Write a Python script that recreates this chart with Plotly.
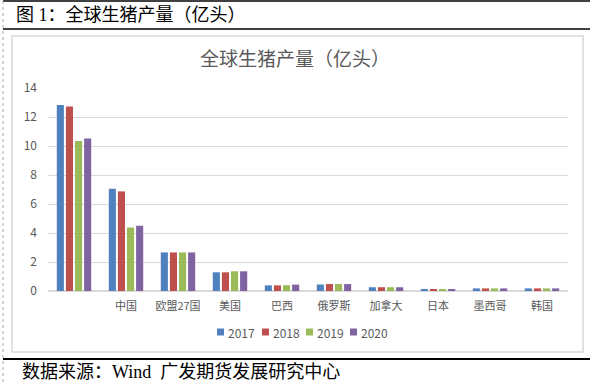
import plotly.graph_objects as go

categories = ["全球", "中国", "欧盟27国", "美国", "巴西", "俄罗斯", "加拿大", "日本", "墨西哥", "韩国"]
tick_labels = ["", "中国", "欧盟27国", "美国", "巴西", "俄罗斯", "加拿大", "日本", "墨西哥", "韩国"]
years = ["2017", "2018", "2019", "2020"]
v2017 = [12.82, 7.05, 2.66, 1.29, 0.39, 0.45, 0.26, 0.12, 0.18, 0.18]
v2018 = [12.73, 6.87, 2.66, 1.29, 0.39, 0.48, 0.26, 0.12, 0.18, 0.18]
v2019 = [10.35, 4.38, 2.66, 1.36, 0.40, 0.48, 0.26, 0.12, 0.18, 0.18]
v2020 = [10.51, 4.50, 2.66, 1.36, 0.44, 0.48, 0.26, 0.12, 0.18, 0.18]
colors = ["#4F81BD", "#C0504D", "#9BBB59", "#8064A2"]
y_ticks = [0, 2, 4, 6, 8, 10, 12, 14]

W, H = 590, 384
L, R, T, B = 48, 568, 88, 291

def px(x):
    return (x - L) / (R - L)

def py(y):
    return (B - y) / (B - T)

fig = go.Figure()
for name, vals, c in zip(years, [v2017, v2018, v2019, v2020], colors):
    fig.add_trace(go.Bar(x=categories, y=vals, name=name, showlegend=False,
                         marker=dict(color=c, line=dict(width=0))))

grey = "#595959"
font_cjk = "Noto Sans CJK SC, Noto Sans, sans-serif"
font_serif = "Liberation Serif, Noto Sans CJK SC, serif"

shapes = [
    dict(type="rect", xref="paper", yref="paper", x0=px(12), x1=px(583), y0=py(36), y1=py(352),
         line=dict(color="#D9D9D9", width=1.5), layer="below"),
    dict(type="line", xref="paper", yref="paper", x0=px(3), x1=px(590), y0=py(1), y1=py(1),
         line=dict(color="black", width=1.5)),
    dict(type="line", xref="paper", yref="paper", x0=px(3), x1=px(590), y0=py(29), y1=py(29),
         line=dict(color="black", width=1.5)),
    dict(type="line", xref="paper", yref="paper", x0=px(3), x1=px(590), y0=py(359), y1=py(359),
         line=dict(color="black", width=2)),
    dict(type="line", xref="paper", yref="paper", x0=px(3), x1=px(3), y0=py(1), y1=py(384),
         line=dict(color="#AAAAAA", width=1, dash="dot")),
]

annotations = [
    dict(text="图 1：全球生猪产量（亿头）", xref="paper", yref="paper", x=px(14), y=py(15),
         xanchor="left", yanchor="middle", showarrow=False,
         font=dict(family=font_serif, size=18, color="black")),
    dict(text="数据来源：Wind  广发期货发展研究中心", xref="paper", yref="paper", x=px(20), y=py(372),
         xanchor="left", yanchor="middle", showarrow=False,
         font=dict(family=font_serif, size=18, color="black")),
    dict(text="全球生猪产量（亿头）", xref="paper", yref="paper", x=px(295), y=py(58),
         xanchor="center", yanchor="middle", showarrow=False,
         font=dict(family=font_cjk, size=19, color=grey)),
]

# legend (square swatch + label per series)
legend_x = [217, 262, 306, 350]
legend_y = 332
for lx, name, c in zip(legend_x, years, colors):
    shapes.append(dict(type="rect", xref="paper", yref="paper",
                       x0=px(lx), x1=px(lx + 7), y0=py(legend_y - 3.5), y1=py(legend_y + 3.5),
                       fillcolor=c, line=dict(width=0)))
    annotations.append(dict(text=name, xref="paper", yref="paper", x=px(lx + 9), y=py(legend_y),
                            xanchor="left", yanchor="middle", showarrow=False,
                            font=dict(family=font_cjk, size=12, color=grey)))

fig.update_layout(
    width=W, height=H,
    margin=dict(l=L, r=W - R, t=T, b=H - B),
    paper_bgcolor="white", plot_bgcolor="white",
    barmode="group", bargap=0.3, bargroupgap=0.22,
    font=dict(family=font_cjk, color=grey, size=11),
    showlegend=False,
    shapes=shapes, annotations=annotations,
)
fig.update_xaxes(tickmode="array", tickvals=categories, ticktext=tick_labels,
                 showgrid=False, showline=False, ticks="", ticklabelstandoff=7,
                 tickfont=dict(size=11, color=grey))
fig.update_yaxes(range=[0, 14], tickvals=y_ticks, showgrid=True, gridcolor="#D9D9D9", gridwidth=1,
                 zeroline=True, zerolinecolor="#D9D9D9", zerolinewidth=1.5,
                 ticks="", ticklabelstandoff=10, tickfont=dict(size=12, color=grey))

fig.write_html("out.html", config={"displayModeBar": False},
               post_script="document.body.style.margin='0';document.body.style.overflow='hidden';")
